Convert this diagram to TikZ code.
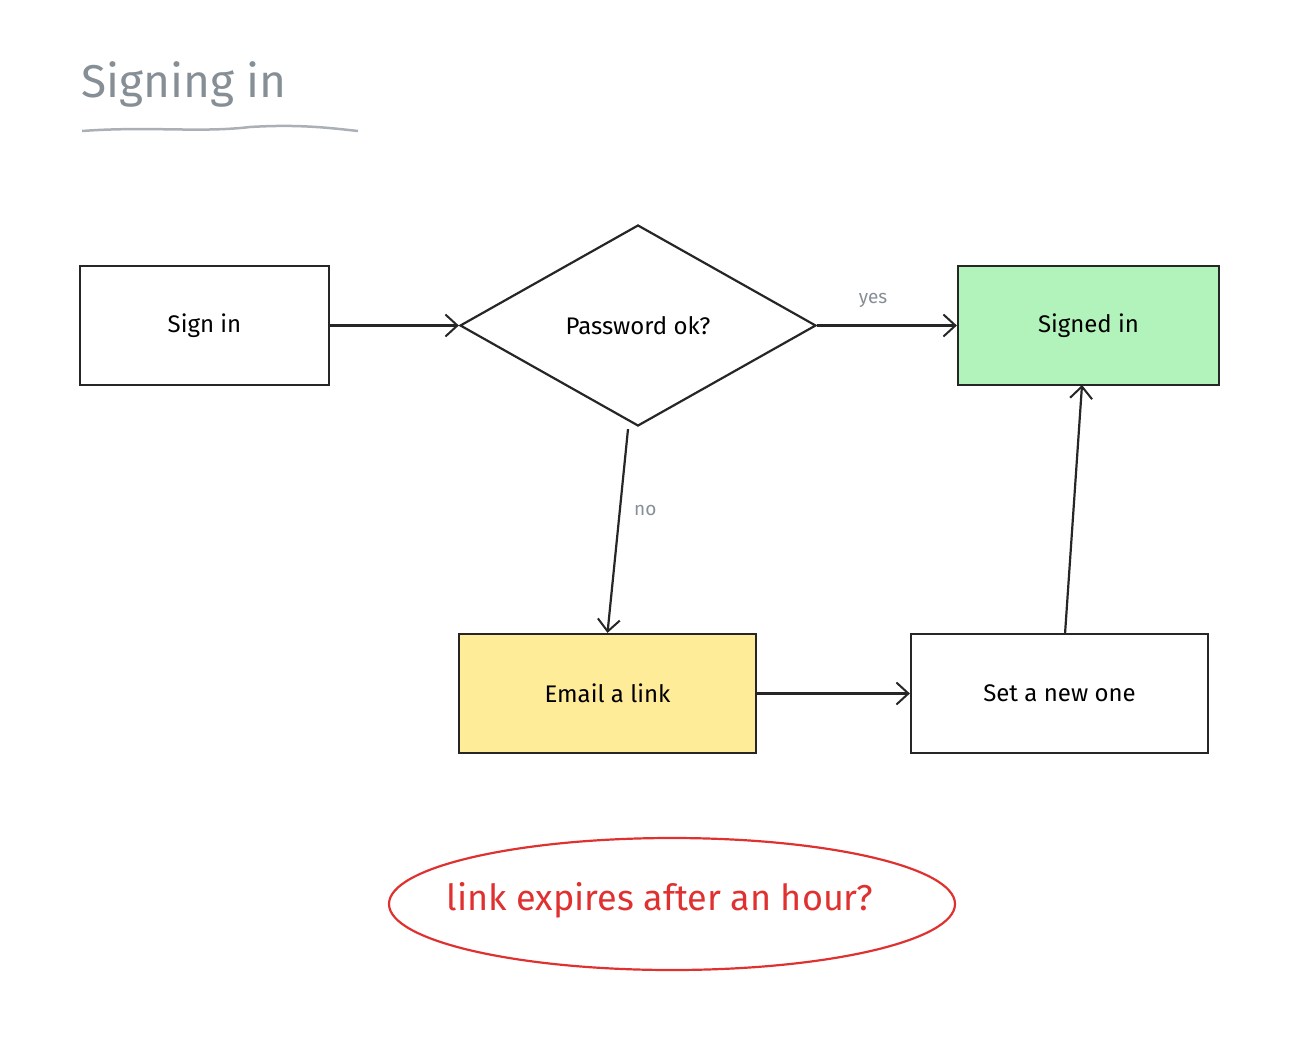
\documentclass[tikz,border=0pt]{standalone}
\usepackage{fontspec}
\setmainfont{Fira Sans}
\usetikzlibrary{arrows.meta,shapes.geometric}
\definecolor{grn}{HTML}{B2F2BB}
\definecolor{yel}{HTML}{FFEC99}
\definecolor{rd}{HTML}{E03131}
\definecolor{gr}{HTML}{868E96}
\begin{document}
\begin{tikzpicture}[x=1pt,y=-1pt,
  box/.style={draw=black!85,line width=2.2pt,minimum width=249pt,minimum height=119pt,font=\fontsize{24}{28}\selectfont},
  arr/.style={line width=2.2pt,draw=black!85,-{Straight Barb[length=12pt,width=22pt,line width=2pt]}},
  lbl/.style={text=gr,font=\fontsize{19}{22}\selectfont}]
\useasboundingbox (0,0) rectangle (1300,1036);
\node[text=gr,font=\fontsize{46}{52}\selectfont,anchor=west] (title) at (78,84) {Signing in};
\draw[gr!70,line width=2.5pt] (82,131) .. controls (150,126) and (200,133) .. (250,127) .. controls (300,124) and (330,128) .. (358,131);
\node[box] (signin) at (204.5,325.5) {Sign in};
\node[draw=black!85,line width=2.2pt,diamond,minimum width=356pt,minimum height=201pt,inner sep=0pt,aspect=1.77,font=\fontsize{24}{28}\selectfont] (pw) at (638,325.5) {Password ok?};
\node[box,fill=grn,minimum width=261pt] (signed) at (1088.5,325.5) {Signed in};
\node[box,fill=yel,minimum width=297pt] (email) at (607.5,693.5) {Email a link};
\node[box,minimum width=297pt] (set) at (1059.5,693.5) {Set a new one};
\node[text=rd,font=\fontsize{36}{40}\selectfont] (note) at (660,900) {link expires after an hour?};
\draw[rd,line width=2.2pt] (672,904) ellipse [x radius=283, y radius=66];
\draw[arr] (signin.east) -- (pw.west);
\draw[arr] (pw.east) -- node[lbl,above=14pt,pos=0.4]{yes} (signed.west);
\draw[arr] (pw.south) ++(-10,2) coordinate (ps) -- node[lbl,right=10pt,pos=0.4]{no} (email.north);
\draw[arr] (email.east) -- (set.west);
\coordinate (st) at (1065,634);
\coordinate (sb) at (1082,385);
\draw[arr] (st) -- (sb);
\end{tikzpicture}
\end{document}
